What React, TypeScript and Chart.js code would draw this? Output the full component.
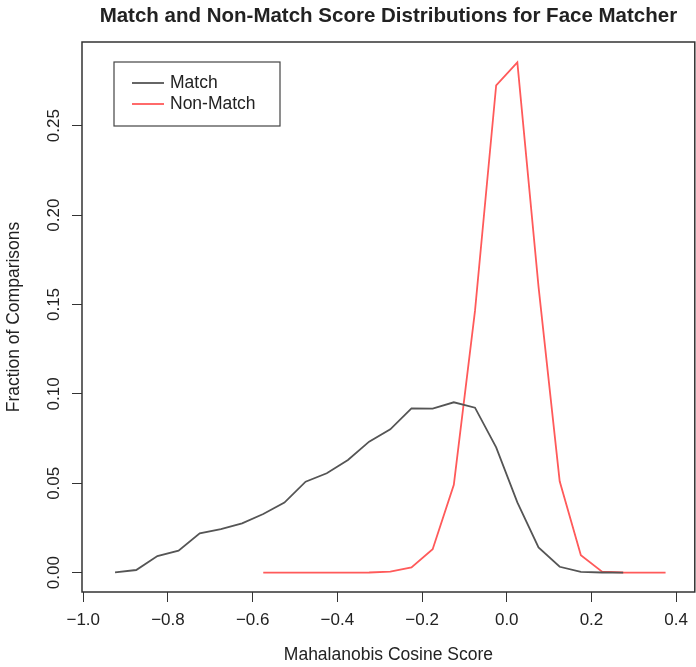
import React, { useEffect, useRef } from "react";
import { Chart, registerables } from "chart.js";

Chart.register(...registerables);

const chartTitle = "Match and Non-Match Score Distributions for Face Matcher";
const xAxisTitle = "Mahalanobis Cosine Score";
const yAxisTitle = "Fraction of Comparisons";

const xTicks = [-1.0, -0.8, -0.6, -0.4, -0.2, 0.0, 0.2, 0.4];
const yTicks = [0.0, 0.05, 0.1, 0.15, 0.2, 0.25];

const matchLabel = "Match";
const matchX = [
  -0.925, -0.875, -0.825, -0.775, -0.725, -0.675, -0.625, -0.575, -0.525, -0.475,
  -0.425, -0.375, -0.325, -0.275, -0.225, -0.175, -0.125, -0.075, -0.025, 0.025,
  0.075, 0.125, 0.175, 0.225, 0.275,
];
const matchY = [
  0.0002, 0.0015, 0.0093, 0.0123, 0.022, 0.0244, 0.0276, 0.0328, 0.0392, 0.0509,
  0.0556, 0.063, 0.0733, 0.0802, 0.0919, 0.0918, 0.0953, 0.0923, 0.0701, 0.0393,
  0.0141, 0.0033, 0.0004, 0.0001, 0.0,
];

const nonMatchLabel = "Non-Match";
const nonMatchX = [
  -0.575, -0.525, -0.475, -0.425, -0.375, -0.325, -0.275, -0.225, -0.175, -0.125,
  -0.075, -0.025, 0.025, 0.075, 0.125, 0.175, 0.225, 0.275, 0.325, 0.375,
];
const nonMatchY = [
  0.0, 0.0, 0.0, 0.0, 0.0, 0.0001, 0.0006, 0.0029, 0.0131, 0.0491,
  0.1464, 0.2726, 0.2854, 0.16, 0.0511, 0.0098, 0.0006, 0.0001, 0.0, 0.0,
];

const FONT = "'Liberation Sans', Arial, Helvetica, sans-serif";
const TEXT = "#222";
const AXIS = "#333";

const fmt = (v: number, d: number) => v.toFixed(d).replace("-", "\u2212");

const framePlugin = {
  id: "frame",
  afterDraw(chart: any) {
    const { ctx, chartArea } = chart;
    const { left, right, top, bottom } = chartArea;
    ctx.save();
    // plot box
    ctx.strokeStyle = AXIS;
    ctx.lineWidth = 1.5;
    ctx.strokeRect(left, top, right - left, bottom - top);

    // main title
    ctx.fillStyle = TEXT;
    ctx.font = `bold 20.5px ${FONT}`;
    ctx.textAlign = "center";
    ctx.textBaseline = "middle";
    ctx.fillText(chartTitle, (left + right) / 2, 16);

    // rotated y tick labels
    const ys = chart.scales.y;
    ctx.font = `17px ${FONT}`;
    yTicks.forEach((v) => {
      const py = ys.getPixelForValue(v);
      ctx.save();
      ctx.translate(54, py);
      ctx.rotate(-Math.PI / 2);
      ctx.textAlign = "center";
      ctx.textBaseline = "middle";
      ctx.fillText(fmt(v, 2), 0, 0);
      ctx.restore();
    });

    // legend
    const lx = left + 32;
    const ly = top + 20;
    const lw = 166;
    const lh = 64;
    ctx.strokeStyle = "#444";
    ctx.lineWidth = 1.2;
    ctx.strokeRect(lx, ly, lw, lh);
    ctx.font = `17.5px ${FONT}`;
    ctx.textAlign = "left";
    ctx.textBaseline = "middle";
    chart.data.datasets.forEach((ds: any, i: number) => {
      const ry = ly + 21 + i * 21;
      ctx.strokeStyle = ds.borderColor;
      ctx.lineWidth = 1.8;
      ctx.beginPath();
      ctx.moveTo(lx + 18, ry);
      ctx.lineTo(lx + 50, ry);
      ctx.stroke();
      ctx.fillStyle = TEXT;
      ctx.fillText(ds.label, lx + 56, ry);
    });
    ctx.restore();
  },
};

export default function App() {
  const ref = useRef<HTMLCanvasElement | null>(null);

  useEffect(() => {
    if (!ref.current) return;
    const chart = new Chart(ref.current, {
      type: "line",
      data: {
        datasets: [
          {
            label: matchLabel,
            data: matchX.map((x, i) => ({ x, y: matchY[i] })),
            borderColor: "#555555",
            borderWidth: 1.8,
            pointRadius: 0,
            tension: 0,
            fill: false,
          },
          {
            label: nonMatchLabel,
            data: nonMatchX.map((x, i) => ({ x, y: nonMatchY[i] })),
            borderColor: "#ff5a5a",
            borderWidth: 1.8,
            pointRadius: 0,
            tension: 0,
            fill: false,
          },
        ],
      },
      options: {
        animation: false,
        responsive: false,
        layout: { padding: { top: 42, right: 1, left: 0, bottom: 0 } },
        plugins: {
          legend: { display: false },
          title: { display: false },
          tooltip: { enabled: false },
        },
        scales: {
          x: {
            type: "linear",
            min: -1.003,
            max: 0.444,
            afterBuildTicks: (s: any) => {
              s.ticks = xTicks.map((v) => ({ value: v }));
            },
            afterFit: (s: any) => {
              s.height = 75;
            },
            border: { display: false },
            grid: {
              drawOnChartArea: false,
              drawTicks: true,
              tickLength: 10,
              color: AXIS,
              lineWidth: 1,
            },
            ticks: {
              autoSkip: false,
              maxRotation: 0,
              padding: 8,
              color: TEXT,
              font: { family: FONT, size: 17 },
              callback: (v: any) => fmt(Number(v), 1),
            },
            title: {
              display: true,
              text: xAxisTitle,
              color: TEXT,
              font: { family: FONT, size: 17.5 },
              padding: { top: 0, bottom: 1.5 },
            },
          },
          y: {
            type: "linear",
            min: -0.0108,
            max: 0.2968,
            afterBuildTicks: (s: any) => {
              s.ticks = yTicks.map((v) => ({ value: v }));
            },
            afterFit: (s: any) => {
              s.width = 82;
            },
            border: { display: false },
            grid: {
              drawOnChartArea: false,
              drawTicks: true,
              tickLength: 10,
              color: AXIS,
              lineWidth: 1,
            },
            ticks: { display: false },
            title: {
              display: true,
              text: yAxisTitle,
              color: TEXT,
              font: { family: FONT, size: 17.5 },
              padding: { top: 4, bottom: 0 },
            },
          },
        },
      },
      plugins: [framePlugin],
    });
    return () => chart.destroy();
  }, []);

  return (
    <div style={{ position: "fixed", left: 0, top: 0, width: 696, height: 667, background: "#fff" }}>
      <canvas ref={ref} width={696} height={667} style={{ width: 696, height: 667 }} />
    </div>
  );
}
